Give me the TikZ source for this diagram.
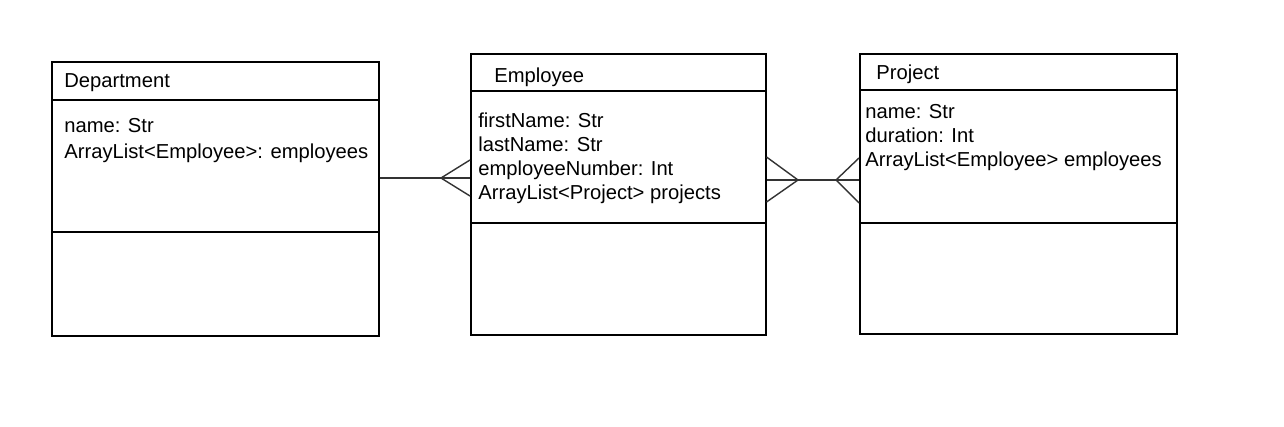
\documentclass[tikz,border=0pt]{standalone}
\usepackage{fontspec}
\setmainfont{Liberation Sans}
\usetikzlibrary{positioning,calc}

\begin{document}
\begin{tikzpicture}[x=0.02cm,y=-0.02cm,
    classbox/.style={draw,line width=0.9pt,anchor=north west,inner sep=0pt},
    boxtitle/.style={anchor=west,inner sep=0pt,font=\fontsize{11.5}{14}\selectfont},
    attrs/.style={anchor=north west,align=left,inner sep=0pt,font=\fontsize{11.5}{13.6}\selectfont},
    link/.style={line width=0.8pt,black!80}]
                \useasboundingbox (0,0) rectangle (1284,426);

                % classes
                \node[classbox,minimum width=6.54cm,minimum height=5.48cm] (dept) at (51,61) {};
                \node[classbox,minimum width=5.9cm,minimum height=5.62cm] (emp) at (470,53) {};
                \node[classbox,minimum width=6.34cm,minimum height=5.6cm] (proj) at (859,53) {};

                \draw[line width=0.9pt] (dept.north west) ++(0,39) -- ++(327,0);
                \draw[line width=0.9pt] (dept.north west) ++(0,171) -- ++(327,0);
                \draw[line width=0.9pt] (emp.north west) ++(0,38) -- ++(295,0);
                \draw[line width=0.9pt] (emp.north west) ++(0,170) -- ++(295,0);
                \draw[line width=0.9pt] (proj.north west) ++(0,37) -- ++(317,0);
                \draw[line width=0.9pt] (proj.north west) ++(0,170) -- ++(317,0);

                \node[boxtitle] (deptname) at (64,83) {Department};
                \node[boxtitle] (empname) at (494,77) {Employee};
                \node[boxtitle] (projname) at (876,74) {Project};

                \node[attrs,font=\fontsize{11.5}{14.7}\selectfont] (deptattr) at (64,118)
                    {name: Str\\ArrayList<Employee>: employees};
                \node[attrs] (empattr) at (478,113)
                    {firstName: Str\\lastName: Str\\employeeNumber: Int\\ArrayList<Project> projects};
                \node[attrs] (projattr) at (865,104)
                    {name: Str\\duration: Int\\ArrayList<Employee> employees};

                % relations
                \coordinate (crowA) at (441,178);
                \coordinate (crowB) at (798,180);
                \coordinate (crowC) at (836,180);

                \draw[link] (dept.north east |- crowA) -- (emp.north west |- crowA);
                \draw[link] (emp.north west |- 0,160) -- (crowA) -- (emp.north west |- 0,196);
                \draw[link] (emp.north east |- crowB) -- (proj.north west |- crowB);
                \draw[link] (emp.north east |- 0,157) -- (crowB) -- (emp.north east |- 0,202);
                \draw[link] (proj.north west |- 0,158) -- (crowC) -- (proj.north west |- 0,203);
\end{tikzpicture}
\end{document}
